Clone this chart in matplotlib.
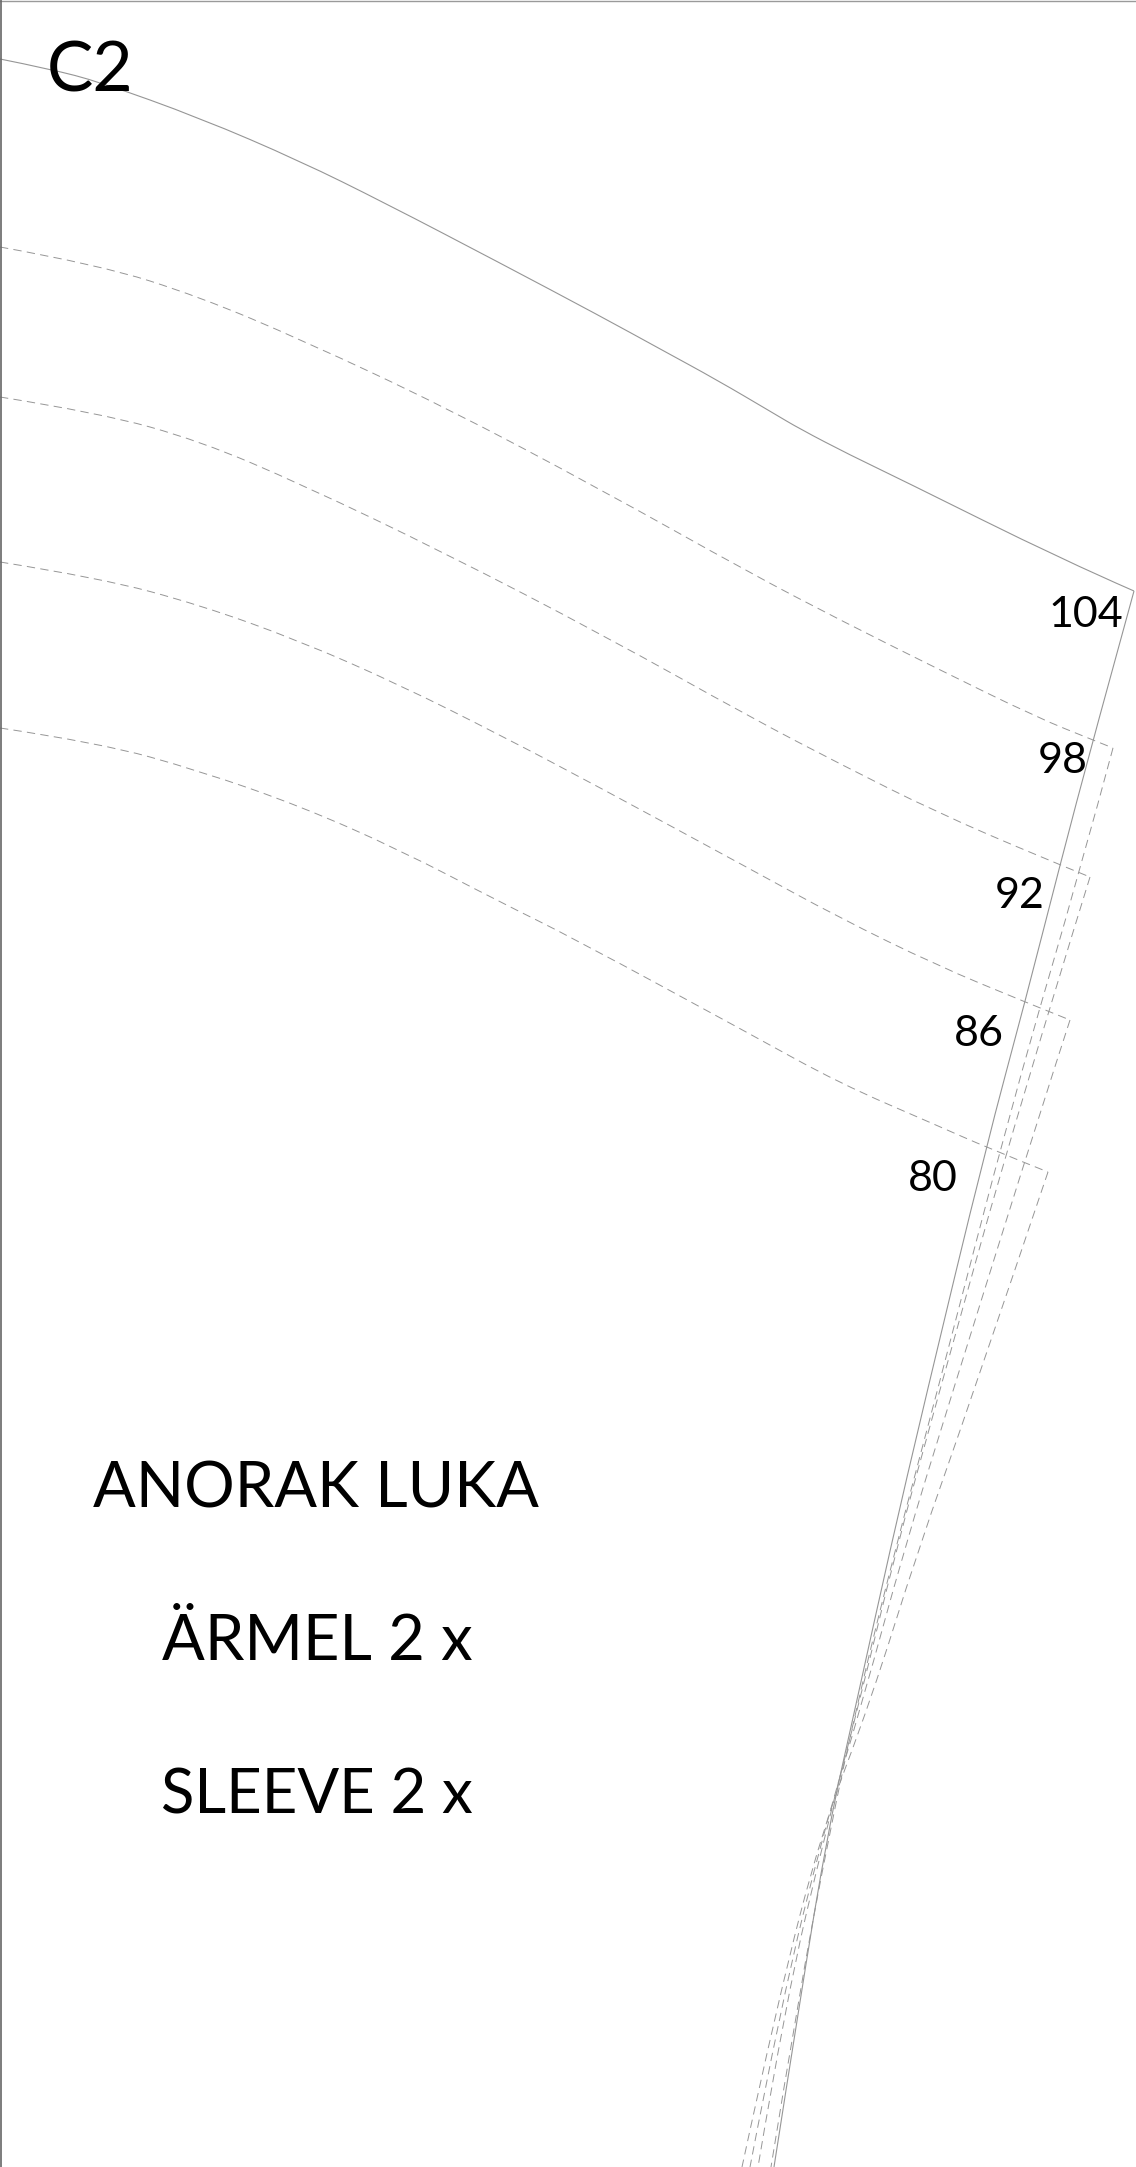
import matplotlib
matplotlib.use("Agg")
import matplotlib.pyplot as plt
from matplotlib.path import Path
from matplotlib.patches import PathPatch

plt.rcParams['lines.scale_dashes'] = False
plt.rcParams['font.family'] = ['Lato', 'DejaVu Sans']

# pattern outline (pixels from the top-left corner)
top_x = [0, 50, 100, 200, 300, 385, 500, 600, 662, 717, 773, 800, 850, 900, 1063, 1134]
top_y = [59, 69, 82, 118, 161, 203, 263, 316, 350, 380, 413, 429, 455, 479, 560, 591]
side_x = [1134, 1093, 1060, 1025, 986, 925, 890, 857, 828, 800, 774]
side_y = [591, 740, 865, 1002, 1147, 1400, 1550, 1700, 1830, 2000, 2167]

sizes = ['98', '92', '86', '80']
curve_x = {
    '98': [0, 100, 200, 302, 443, 600, 750, 840, 936, 1036, 1093, 1113],
    '92': [0, 100, 200, 303, 443, 605, 750, 840, 936, 1043, 1090],
    '86': [0, 100, 200, 300, 400, 500, 597, 750, 838, 936, 1025, 1070],
    '80': [0, 100, 200, 300, 400, 500, 573, 750, 839, 936, 988, 1048],
}
curve_y = {
    '98': [247, 265, 297, 340, 406, 489, 573, 620, 668, 717, 740, 748],
    '92': [397, 413, 441, 485, 552, 636, 717, 764, 812, 858, 877],
    '86': [562, 578, 605, 641, 685, 735, 786, 869, 917, 965, 1002, 1020],
    '80': [728, 743, 771, 806, 850, 902, 938, 1034, 1083, 1125, 1148, 1172],
}
seam_x = {
    '98': [1113, 1083, 1013, 935, 895, 858, 830, 798, 771],
    '92': [1090, 1021, 937, 896, 860, 826, 786, 758],
    '86': [1070, 1044, 950, 904, 863, 824, 782, 750],
    '80': [1048, 971, 918, 871, 822, 778, 742],
}
seam_y = {
    '98': [748, 860, 1100, 1400, 1550, 1700, 1830, 2000, 2167],
    '92': [877, 1100, 1400, 1550, 1700, 1830, 2000, 2167],
    '86': [1020, 1100, 1400, 1550, 1700, 1830, 2000, 2167],
    '80': [1172, 1400, 1550, 1700, 1830, 2000, 2167],
}

title_lines = ['ANORAK LUKA', 'ÄRMEL 2 x', 'SLEEVE 2 x']
title_x = [93, 162, 161]
title_y = [1507, 1660, 1813]
title_pt = [45.5, 45.5, 44.5]
number_labels = ['104', '98', '92', '86', '80']
number_x = [1048, 1038, 995, 954, 908]
number_y = [627, 773, 908, 1046, 1191]


def smooth(xs, ys):
    pts = list(zip(xs, ys))
    verts, codes = [pts[0]], [Path.MOVETO]
    for i in range(1, len(pts) - 1):
        if i < len(pts) - 2:
            nxt = ((pts[i][0] + pts[i + 1][0]) / 2, (pts[i][1] + pts[i + 1][1]) / 2)
        else:
            nxt = pts[i + 1]
        verts += [pts[i], nxt]
        codes += [Path.CURVE3, Path.CURVE3]
    return Path(verts, codes)


fig = plt.figure(figsize=(11.36, 21.67), dpi=100)
ax = fig.add_axes([0, 0, 1, 1])
ax.set_xlim(0, 1136)
ax.set_ylim(2167, 0)
ax.axis('off')

GREY = '#969696'
DASH = (0, (6.0, 3.8))
ax.add_patch(PathPatch(smooth(top_x, top_y), fc='none', ec=GREY, lw=0.8))
ax.add_patch(PathPatch(smooth(side_x, side_y), fc='none', ec=GREY, lw=0.8))
for s in sizes:
    ax.add_patch(PathPatch(smooth(curve_x[s], curve_y[s]), fc='none', ec=GREY, lw=0.7, ls=DASH))
    ax.add_patch(PathPatch(smooth(seam_x[s], seam_y[s]), fc='none', ec=GREY, lw=0.7, ls=DASH))

ax.plot([0, 1136], [0.5, 0.5], color='#9a9a9a', lw=1.0)
ax.plot([0.7, 0.7], [0, 2167], color='#666666', lw=1.2)

ax.text(47, 91, 'C2', fontsize=50, color='black', va='baseline')
for t, x, y, pt in zip(title_lines, title_x, title_y, title_pt):
    ax.text(x, y, t, fontsize=pt, color='black', va='baseline')
for t, x, y in zip(number_labels, number_x, number_y):
    ax.text(x, y, t, fontsize=31, color='black', va='baseline')

fig.savefig('out.png', dpi=100)
